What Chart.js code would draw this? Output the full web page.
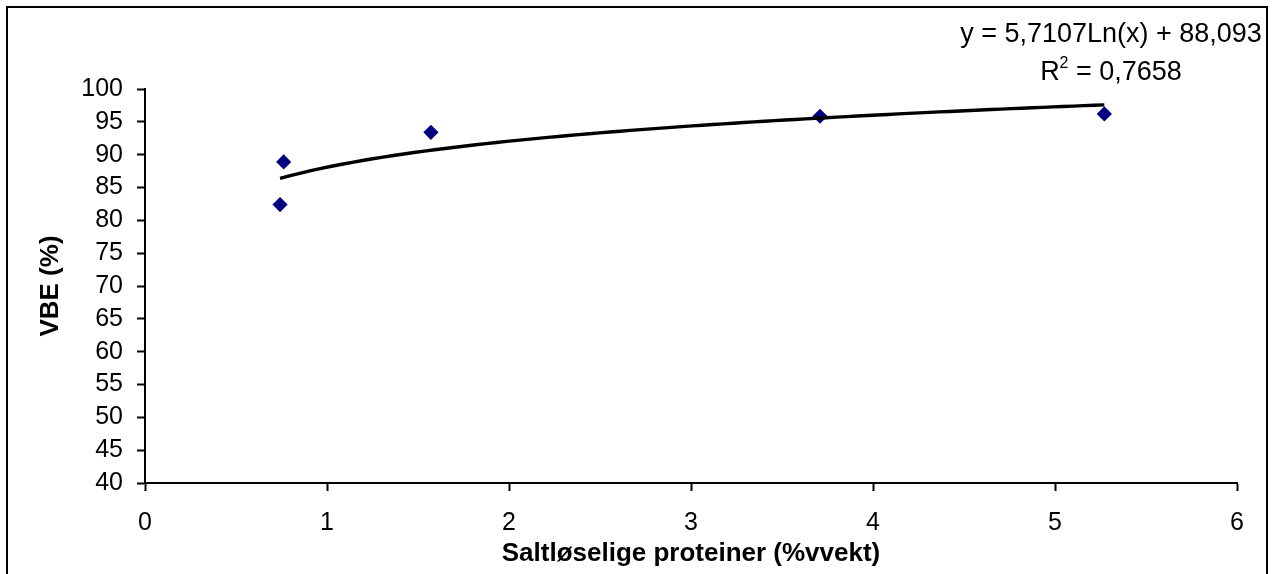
<!DOCTYPE html>
<html>
<head>
<meta charset="utf-8">
<script src="https://cdn.jsdelivr.net/npm/chart.js@4/dist/chart.umd.min.js"></script>
<style>
  html, body { margin: 0; padding: 0; background: #fff; overflow: hidden; }
  #wrap { position: relative; width: 1278px; height: 574px; }
  #frame { position: absolute; left: 6px; top: 6px; width: 1262px; height: 640px;
           border: 2px solid #000; box-sizing: border-box; }
  #c { position: absolute; left: 0; top: 0; }
</style>
</head>
<body>
<div id="wrap">
  <div id="frame"></div>
  <canvas id="c" width="1278" height="574"></canvas>
</div>
<script>
// Measured samples: salt-soluble protein content vs. VBE
const proteinX = [0.742, 0.762, 1.571, 3.709, 5.271];
const vbeY = [82.4, 88.9, 93.4, 95.85, 96.2];

// Axis ranges and tick steps
const xTicks = [0, 1, 2, 3, 4, 5, 6];
const yTicks = [40, 45, 50, 55, 60, 65, 70, 75, 80, 85, 90, 95, 100];

// Logarithmic trendline y = a*ln(x) + b, as stated in the label
const trendSlope = 5.7107;
const trendIntercept = 88.093;
const equationText = 'y = 5,7107Ln(x) + 88,093';
const rSquaredValue = '0,7658';

const xTitle = 'Saltløselige proteiner (%vvekt)';
const yTitle = 'VBE (%)';

const FONT = '"Liberation Sans", Arial, sans-serif';

// Trendline drawn across the range of the measured x values
const xMin = Math.min(...proteinX);
const xMax = Math.max(...proteinX);
const trendPoints = [];
const steps = 80;
for (let i = 0; i <= steps; i++) {
  const x = xMin + (xMax - xMin) * i / steps;
  trendPoints.push({ x: x, y: trendSlope * Math.log(x) + trendIntercept });
}

const scatterPoints = proteinX.map((x, i) => ({ x: x, y: vbeY[i] }));

// Equation and R² text in the top-right corner
const equationPlugin = {
  id: 'equationLabel',
  afterDraw(chart) {
    const ctx = chart.ctx;
    const cx = chart.chartArea.right - 126;
    ctx.save();
    ctx.fillStyle = '#000';
    ctx.textBaseline = 'alphabetic';
    ctx.font = '27px ' + FONT;
    ctx.textAlign = 'center';
    ctx.fillText(equationText, cx, 42);

    const part1 = 'R';
    const part3 = ' = ' + rSquaredValue;
    ctx.font = '27px ' + FONT;
    const w1 = ctx.measureText(part1).width;
    const w3 = ctx.measureText(part3).width;
    ctx.font = '16px ' + FONT;
    const w2 = ctx.measureText('2').width;
    const x0 = cx - (w1 + w2 + w3) / 2;
    ctx.textAlign = 'left';
    ctx.font = '27px ' + FONT;
    ctx.fillText(part1, x0, 80);
    ctx.font = '16px ' + FONT;
    ctx.fillText('2', x0 + w1, 68);
    ctx.font = '27px ' + FONT;
    ctx.fillText(part3, x0 + w1 + w2, 80);
    ctx.restore();
  }
};

new Chart(document.getElementById('c'), {
  type: 'scatter',
  data: {
    datasets: [
      {
        label: 'Trend',
        type: 'line',
        data: trendPoints,
        borderColor: '#000',
        borderWidth: 3.4,
        pointRadius: 0,
        fill: false,
        tension: 0
      },
      {
        label: 'VBE',
        data: scatterPoints,
        pointStyle: 'rectRot',
        pointRadius: 7.6,
        pointBackgroundColor: '#000080',
        pointBorderColor: '#000080',
        pointBorderWidth: 0
      }
    ]
  },
  options: {
    responsive: false,
    animation: false,
    devicePixelRatio: 1,
    layout: { padding: { left: 0, top: 89, right: 41, bottom: 0 } },
    plugins: {
      legend: { display: false },
      tooltip: { enabled: false }
    },
    scales: {
      x: {
        type: 'linear',
        min: xTicks[0],
        max: xTicks[xTicks.length - 1],
        afterBuildTicks(scale) { scale.ticks = xTicks.map(v => ({ value: v })); },
        afterFit(scale) { scale.height = 91; },
        grid: { drawOnChartArea: false, drawTicks: true, tickLength: 8, tickWidth: 2, tickColor: '#000' },
        border: { display: true, color: '#000', width: 2 },
        ticks: { color: '#000', padding: 17, autoSkip: false, font: { family: FONT, size: 25 }, maxRotation: 0 },
        title: {
          display: true, text: xTitle, color: '#000',
          font: { family: FONT, size: 26, weight: 'bold' },
          padding: { top: 0, bottom: 5 }
        }
      },
      y: {
        type: 'linear',
        min: yTicks[0],
        max: yTicks[yTicks.length - 1],
        afterBuildTicks(scale) { scale.ticks = yTicks.map(v => ({ value: v })); },
        afterFit(scale) { scale.width = 145; },
        grid: { drawOnChartArea: false, drawTicks: true, tickLength: 8, tickWidth: 2, tickColor: '#000' },
        border: { display: true, color: '#000', width: 2 },
        ticks: { color: '#000', padding: 14, autoSkip: false, font: { family: FONT, size: 25 } },
        title: {
          display: true, text: yTitle, color: '#000',
          font: { family: FONT, size: 26, weight: 'bold' },
          padding: { top: 35, bottom: 0 }
        }
      }
    }
  },
  plugins: [equationPlugin]
});
</script>
</body>
</html>
